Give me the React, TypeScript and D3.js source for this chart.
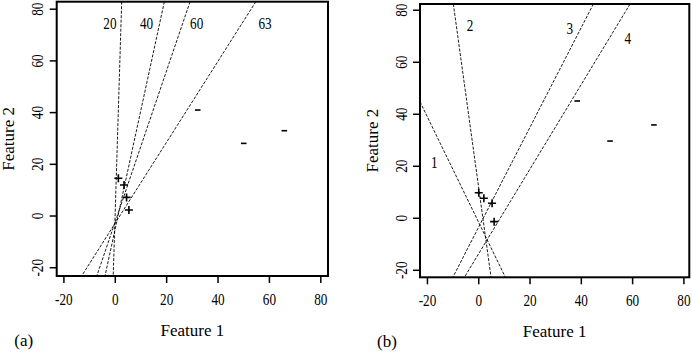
import { useEffect, useRef } from "react";
import * as d3 from "d3";

const ticks = [-20, 0, 20, 40, 60, 80];

// panel (a): boundary lines (two points each), labels, points
const linesA = [
  { id: "20", x1: 2.5, y1: 82.9, x2: -0.8, y2: -23.2, lx: -2.1, ly: 74.5 },
  { id: "40", x1: 19.1, y1: 82.9, x2: -4.0, y2: -23.2, lx: 12.2, ly: 74.5 },
  { id: "60", x1: 29.1, y1: 82.9, x2: -7.2, y2: -23.2, lx: 31.7, ly: 74.5 },
  { id: "63", x1: 54.7, y1: 82.9, x2: -13.1, y2: -23.2, lx: 58.3, ly: 74.5 },
];
const posA: [number, number][] = [[1.2, 14.6], [3.4, 12.0], [4.4, 7.2], [5.3, 2.3]];
const negA: [number, number][] = [[32.1, 41.0], [50.0, 28.1], [65.8, 33.0]];

// panel (b)
const linesB = [
  { id: "1", x1: -22.9, y1: 44.8, x2: 10.4, y2: -22.7, lx: -17.3, ly: 21.5 },
  { id: "2", x1: -9.9, y1: 82.4, x2: 4.8, y2: -22.7, lx: -3.4, ly: 74.3 },
  { id: "3", x1: 44.7, y1: 82.4, x2: -10.1, y2: -22.7, lx: 35.5, ly: 73.1 },
  { id: "4", x1: 59.0, y1: 82.4, x2: -5.6, y2: -22.7, lx: 58.1, ly: 69.2 },
];
const posB: [number, number][] = [[0, 9.8], [2.0, 7.7], [5.2, 5.8], [6.0, -1.3]];
const negB: [number, number][] = [[38.4, 45.1], [51.2, 29.7], [68.3, 35.9]];

type Line = (typeof linesA)[number];

interface Panel {
  key: string;
  tag: string;
  box: [number, number, number, number]; // left, top, right, bottom px
  xd: [number, number];
  yd: [number, number];
  lines: Line[];
  pos: [number, number][];
  neg: [number, number][];
}

const panels: Panel[] = [
  { key: "a", tag: "(a)", box: [56.7, 1.7, 328, 276], xd: [-22.8, 82.8], yd: [-23.2, 82.9], lines: linesA, pos: posA, neg: negA },
  { key: "b", tag: "(b)", box: [420, 4, 689.3, 277.3], xd: [-22.9, 82.1], yd: [-22.7, 82.4], lines: linesB, pos: posB, neg: negB },
];

const FONT = "'Liberation Serif', 'DejaVu Serif', serif";
// the digits in the original are narrow, so squeeze them a little
const NUM_SIZE = 16.5;
const SQUEEZE = 0.8;

export default function App() {
  const ref = useRef<SVGSVGElement | null>(null);

  useEffect(() => {
    if (!ref.current) return;
    const svg = d3.select(ref.current);
    svg.selectAll("*").remove();

    for (const p of panels) {
      const [l, t, r, b] = p.box;
      const x = d3.scaleLinear().domain(p.xd).range([l, r]);
      const y = d3.scaleLinear().domain(p.yd).range([b, t]);
      const g = svg.append("g").attr("font-family", FONT).attr("fill", "#000");

      const clipId = `clip-${p.key}`;
      g.append("clipPath").attr("id", clipId)
        .append("rect").attr("x", l).attr("y", t).attr("width", r - l).attr("height", b - t);

      g.append("g").attr("clip-path", `url(#${clipId})`)
        .selectAll("line").data(p.lines).join("line")
        .attr("x1", (d) => x(d.x1)).attr("y1", (d) => y(d.y1))
        .attr("x2", (d) => x(d.x2)).attr("y2", (d) => y(d.y2))
        .attr("stroke", "#000").attr("stroke-width", 0.9)
        .attr("stroke-dasharray", "3,1.5");

      g.selectAll("text.lab").data(p.lines).join("text")
        .attr("class", "lab")
        .attr("transform", (d) => `translate(${x(d.lx)},${y(d.ly)}) scale(${SQUEEZE},1)`)
        .attr("text-anchor", "middle").attr("dominant-baseline", "central")
        .attr("font-size", NUM_SIZE).text((d) => d.id);

      // "+" markers
      g.selectAll("path.pos").data(p.pos).join("path")
        .attr("class", "pos")
        .attr("d", (d) => {
          const cx = x(d[0]), cy = y(d[1]), h = 4;
          return `M${cx - h},${cy}H${cx + h}M${cx},${cy - h}V${cy + h}`;
        })
        .attr("stroke", "#000").attr("stroke-width", 1.6).attr("fill", "none");

      // "-" markers
      g.selectAll("line.neg").data(p.neg).join("line")
        .attr("class", "neg")
        .attr("x1", (d) => x(d[0]) - 2.8).attr("x2", (d) => x(d[0]) + 2.8)
        .attr("y1", (d) => y(d[1])).attr("y2", (d) => y(d[1]))
        .attr("stroke", "#000").attr("stroke-width", 1.6);

      g.append("rect").attr("x", l).attr("y", t).attr("width", r - l).attr("height", b - t)
        .attr("fill", "none").attr("stroke", "#000").attr("stroke-width", 2);

      // x axis
      g.selectAll("line.xt").data(ticks).join("line").attr("class", "xt")
        .attr("x1", (d) => x(d)).attr("x2", (d) => x(d)).attr("y1", b).attr("y2", b + 7)
        .attr("stroke", "#000").attr("stroke-width", 1.5);
      g.selectAll("text.xt").data(ticks).join("text").attr("class", "xt")
        .attr("transform", (d) => `translate(${x(d)},${b + 23}) scale(${SQUEEZE},1)`)
        .attr("text-anchor", "middle").attr("dominant-baseline", "central")
        .attr("font-size", NUM_SIZE).text((d) => String(d));

      // y axis
      g.selectAll("line.yt").data(ticks).join("line").attr("class", "yt")
        .attr("y1", (d) => y(d)).attr("y2", (d) => y(d)).attr("x1", l).attr("x2", l - 7)
        .attr("stroke", "#000").attr("stroke-width", 1.5);
      g.selectAll("text.yt").data(ticks).join("text").attr("class", "yt")
        .attr("transform", (d) => `translate(${l - 19},${y(d)}) rotate(-90) scale(${SQUEEZE},1)`)
        .attr("text-anchor", "middle").attr("dominant-baseline", "central")
        .attr("font-size", NUM_SIZE).text((d) => String(d));

      g.append("text")
        .attr("x", (l + r) / 2).attr("y", b + 54)
        .attr("text-anchor", "middle").attr("dominant-baseline", "central")
        .attr("font-size", 17).text("Feature 1");
      g.append("text")
        .attr("transform", `translate(${l - 48},${(t + b) / 2}) rotate(-90)`)
        .attr("text-anchor", "middle").attr("dominant-baseline", "central")
        .attr("font-size", 17).text("Feature 2");
      g.append("text")
        .attr("x", l - 33).attr("y", b + 64)
        .attr("text-anchor", "middle").attr("dominant-baseline", "central")
        .attr("font-size", 17).text(p.tag);
    }
  }, []);

  return (
    <svg
      ref={ref}
      width={692}
      height={352}
      style={{ position: "absolute", left: 0, top: 0, background: "#fff" }}
    />
  );
}
